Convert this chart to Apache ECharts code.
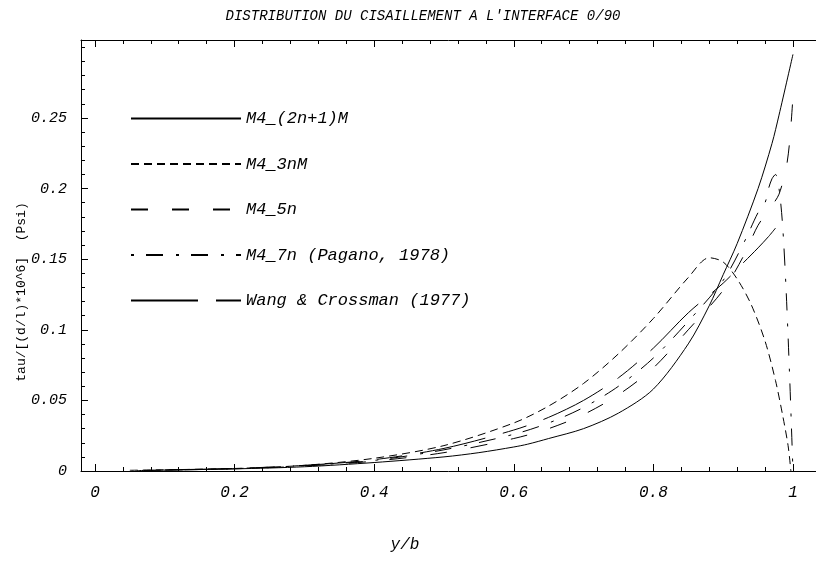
<!DOCTYPE html>
<html><head><meta charset="utf-8">
<script src="https://cdn.jsdelivr.net/npm/echarts@6/dist/echarts.min.js"></script>
<style>html,body{margin:0;padding:0;background:#fff}#c{width:816px;height:569px}</style>
</head><body><div id="c"></div>
<script>
var titleText = "DISTRIBUTION DU CISAILLEMENT A L'INTERFACE 0/90";
var xName = "y/b";
var yName = "tau/[(d/l)*10^6]  (Psi)";
var seriesNames = ["M4_(2n+1)M", "M4_3nM", "M4_5n", "M4_7n (Pagano, 1978)", "Wang & Crossman (1977)"];
var xTickLabels = [0, 0.2, 0.4, 0.6, 0.8, 1];
var yTickLabels = [0, 0.05, 0.1, 0.15, 0.2, 0.25];

var xSolid = [0.06, 0.2, 0.3, 0.4, 0.5, 0.55, 0.6, 0.62, 0.65, 0.7, 0.75, 0.8, 0.85, 0.88, 0.9, 0.92, 0.95, 0.97, 0.98, 1.0];
var ySolid = [0.0003, 0.0015, 0.003, 0.006, 0.01, 0.013, 0.017, 0.019, 0.023, 0.03, 0.041, 0.058, 0.09, 0.117, 0.139, 0.161, 0.2, 0.232, 0.252, 0.295];

var x3nM = [0.05, 0.2, 0.3, 0.4, 0.5, 0.6, 0.65, 0.7, 0.75, 0.8, 0.85, 0.88, 0.9, 0.92, 0.94, 0.96, 0.975, 0.985, 0.993, 0.997];
var y3nM = [0.0005, 0.0018, 0.004, 0.009, 0.018, 0.034, 0.046, 0.062, 0.083, 0.108, 0.137, 0.151, 0.148, 0.136, 0.118, 0.092, 0.064, 0.04, 0.018, 0];

var x5n = [0.07, 0.2, 0.3, 0.4, 0.5, 0.6, 0.65, 0.7, 0.75, 0.8, 0.85, 0.9, 0.93, 0.95, 0.97, 0.98, 0.99, 0.995, 1.0];
var y5n = [0.0004, 0.0016, 0.0035, 0.007, 0.013, 0.023, 0.03, 0.04, 0.054, 0.073, 0.1, 0.128, 0.153, 0.174, 0.188, 0.196, 0.214, 0.232, 0.265];

var x7n = [0.08, 0.2, 0.3, 0.4, 0.5, 0.6, 0.65, 0.7, 0.75, 0.8, 0.85, 0.9, 0.93, 0.95, 0.96, 0.965, 0.97, 0.975, 0.98, 0.985, 0.99, 0.995, 1.0];
var y7n = [0.0004, 0.0017, 0.0038, 0.0075, 0.015, 0.026, 0.034, 0.045, 0.06, 0.08, 0.106, 0.135, 0.162, 0.183, 0.19, 0.2, 0.207, 0.21, 0.2, 0.175, 0.13, 0.07, 0];

var xWang = [0.1, 0.2, 0.3, 0.4, 0.5, 0.6, 0.65, 0.7, 0.75, 0.8, 0.85, 0.9, 0.93, 0.95, 0.965, 0.975];
var yWang = [0.0008, 0.0018, 0.004, 0.008, 0.016, 0.029, 0.038, 0.05, 0.066, 0.087, 0.112, 0.133, 0.148, 0.158, 0.166, 0.172];

function pairs(xs, ys) { return xs.map(function (x, i) { return [x, ys[i]]; }); }
function range(a, b, s) { var r = []; for (var v = a; v <= b + 1e-9; v += s) r.push(Math.round(v * 1000) / 1000); return r; }

var FONT = "'Liberation Mono', 'DejaVu Sans Mono', monospace";
var chart = echarts.init(document.getElementById('c'), null, { renderer: 'canvas' });

var dashes = [null, [8, 5], [17, 24], [3, 12, 17, 13], [67, 18, 25, 18]];
var dataSets = [pairs(xSolid, ySolid), pairs(x3nM, y3nM), pairs(x5n, y5n), pairs(x7n, y7n), pairs(xWang, yWang)];

var series = seriesNames.map(function (n, i) {
  return {
    name: n, type: 'line', data: dataSets[i], symbol: 'none', showSymbol: false,
    smooth: 0.3, silent: true, animation: false,
    lineStyle: { color: '#000', width: 1, type: dashes[i] ? dashes[i] : 'solid' },
    itemStyle: { color: '#000' }
  };
});

var xMin = -0.02, xMax = 1.033, yMin = 0, yMax = 0.3052;
var xMinor = range(0, 1.0, 0.04);
var yMinor = range(0, 0.3, 0.01);

function xAx(pos, ticks, len, showLabel, showLine) {
  return {
    type: 'value', position: pos, min: xMin, max: xMax,
    axisLine: { show: showLine, onZero: false, lineStyle: { color: '#000', width: 1 } },
    axisTick: { show: true, inside: true, length: len, customValues: ticks, lineStyle: { color: '#000' } },
    axisLabel: { show: showLabel, customValues: xTickLabels, margin: 14, color: '#000', fontFamily: FONT, fontStyle: 'italic', fontSize: 16,
      formatter: function (v) { return String(v); } },
    splitLine: { show: false }
  };
}
function yAx(ticks, len, showLabel, showLine) {
  return {
    type: 'value', position: 'left', min: yMin, max: yMax,
    axisLine: { show: showLine, onZero: false, lineStyle: { color: '#000', width: 1 } },
    axisTick: { show: true, inside: true, length: len, customValues: ticks, lineStyle: { color: '#000' } },
    axisLabel: { show: showLabel, customValues: yTickLabels, margin: 14, color: '#000', fontFamily: FONT, fontStyle: 'italic', fontSize: 15,
      formatter: function (v) { return String(v); } },
    splitLine: { show: false }
  };
}

chart.setOption({
  animation: false,
  backgroundColor: '#fff',
  grid: { left: 81, top: 40, right: 0, bottom: 98, containLabel: false },
  xAxis: [
    xAx('bottom', xTickLabels, 7, true, true),
    xAx('bottom', xMinor, 4, false, false),
    xAx('top', xTickLabels, 7, false, true),
    xAx('top', xMinor, 4, false, false)
  ],
  yAxis: [
    yAx(yTickLabels, 7, true, true),
    yAx(yMinor, 4, false, false)
  ],
  legend: {
    orient: 'vertical', left: 130, top: 110, padding: 0, itemWidth: 110, itemHeight: 10, itemGap: 28.5,
    selectedMode: false,
    itemStyle: { opacity: 0 },
    textStyle: { color: '#000', fontFamily: FONT, fontStyle: 'italic', fontSize: 17 },
    data: seriesNames
  },
  graphic: [
    { type: 'text', x: 423, y: 16, style: { text: titleText, textAlign: 'center', textVerticalAlign: 'middle', fill: '#000', font: "italic 14px 'Liberation Mono', monospace" } },
    { type: 'text', x: 405, y: 545, style: { text: xName, textAlign: 'center', textVerticalAlign: 'middle', fill: '#000', font: "italic 16px 'Liberation Mono', monospace" } },
    { type: 'text', x: 22, y: 292, rotation: Math.PI / 2, style: { text: yName, textAlign: 'center', textVerticalAlign: 'middle', fill: '#000', font: "13px 'Liberation Mono', monospace" } }
  ],
  series: series
});
</script></body></html>
